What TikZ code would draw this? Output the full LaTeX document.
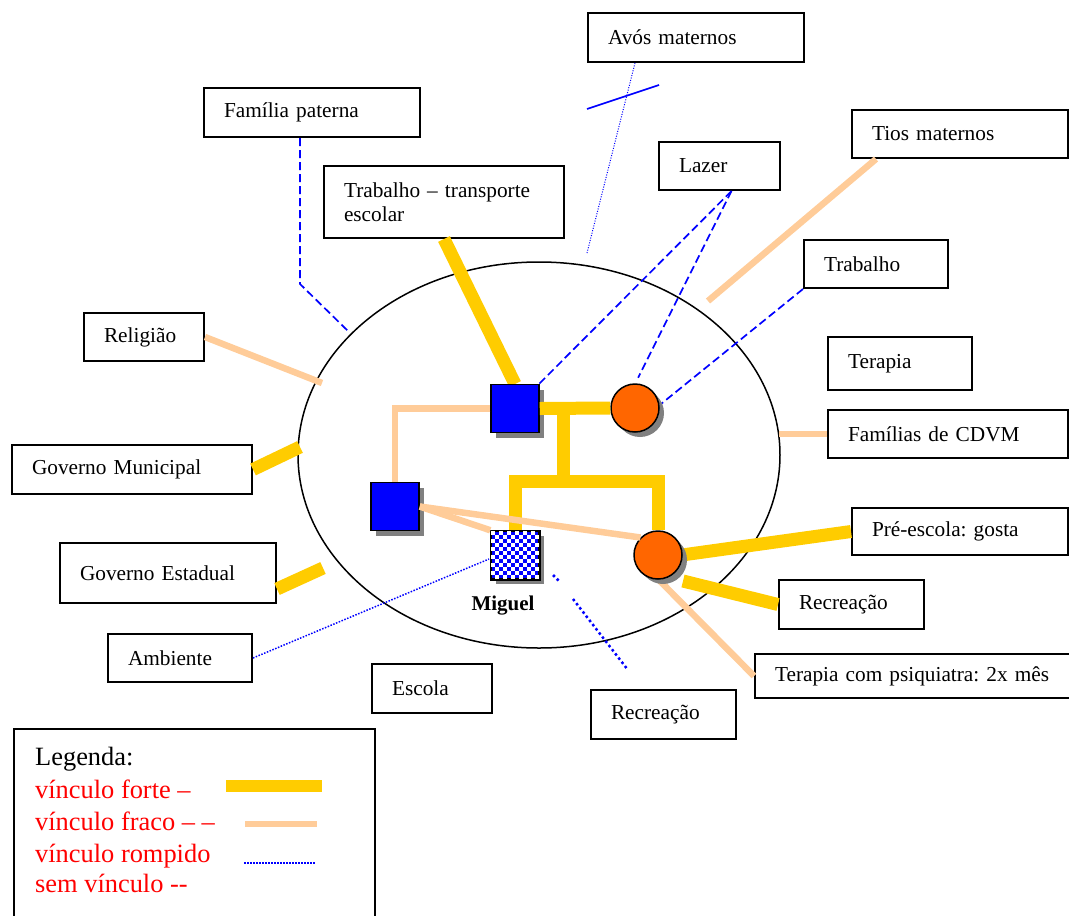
\documentclass[tikz,border=0pt]{standalone}
\usepackage{fontspec}
\setmainfont{Liberation Serif}
\usetikzlibrary{shapes.geometric,shadows}
\definecolor{amarelo}{HTML}{FFCC00}
\definecolor{pessego}{HTML}{FFCC99}
\definecolor{laranja}{HTML}{FF6600}
\definecolor{sombra}{HTML}{808080}
\frenchspacing

\begin{document}
\begin{tikzpicture}[
        x=1pt, y=-1pt,
        caixa/.style = {draw, line width=2pt, anchor=north west, align=left, inner xsep=20pt, inner ysep=0pt, font=\fontsize{21.3}{24}\selectfont},
        forte/.style = {draw=amarelo, line width=13pt},
        fraco/.style = {draw=pessego, line width=6.5pt},
        semvinculo/.style = {draw=blue, line width=1.7pt, dash pattern=on 8pt off 4pt},
        rompido/.style = {draw=blue, line width=1.5pt, dash pattern=on 1.5pt off 1.5pt},
        sombreado/.style = {drop shadow={shadow xshift=5pt, shadow yshift=-5pt, fill=sombra, opacity=1}},
        homem/.style = {rectangle, draw, line width=1.5pt, minimum size=48pt, inner sep=0pt, fill=blue, sombreado},
        mulher/.style = {circle, draw, line width=1.5pt, minimum size=48pt, inner sep=0pt, fill=laranja, sombreado},
        legtexto/.style = {anchor=base west, inner sep=0pt, text=red, font=\fontsize{26.4}{32}\selectfont}
    ]
    \useasboundingbox (0,0) rectangle (1069,916);

    % ecomapa
    \node[draw, ellipse, line width=1.5pt, minimum width=482pt, minimum height=386pt, inner sep=0pt] (eco) at (539,455) {};

    % caixas
    \node[caixa, text width=176pt, minimum height=49pt] (avos) at (587,12) {Avós maternos};
    \node[caixa, text width=81pt, minimum height=48pt] (lazer) at (658,141) {Lazer};
    \node[caixa, text width=176pt, minimum height=49pt] (fampat) at (203,87) {Família paterna};
    \node[caixa, text width=200pt, minimum height=72pt] (transp) at (323,165) {Trabalho – transporte\\escolar};
    \node[caixa, text width=176pt, minimum height=48pt] (tios) at (851,109) {Tios maternos};
    \node[caixa, text width=104pt, minimum height=48pt] (trabalho) at (803,239) {Trabalho};
    \node[caixa, text width=104pt, minimum height=53pt] (terapia) at (827,336) {Terapia};
    \node[caixa, text width=200pt, minimum height=48pt] (familias) at (827,409) {Famílias de CDVM};
    \node[caixa, text width=176pt, minimum height=47pt] (preescola) at (851,507) {Pré-escola: gosta};
    \node[caixa, text width=105pt, minimum height=49pt] (recrea) at (778,579) {Recreação};
    \node[caixa, text width=281pt, minimum height=44pt] (terapsi) at (754,653) {Terapia com psiquiatra: 2x mês};
    \node[caixa, text width=105pt, minimum height=49pt] (recreb) at (590,689) {Recreação};
    \node[caixa, text width=80pt, minimum height=49pt] (escola) at (371,663) {Escola};
    \node[caixa, text width=80pt, minimum height=48pt] (religiao) at (83,312) {Religião};
    \node[caixa, text width=200pt, minimum height=49pt] (govmun) at (11,444) {Governo Municipal};
    \node[caixa, text width=176pt, minimum height=60pt] (govest) at (59,542) {Governo Estadual};
    \node[caixa, text width=104pt, minimum height=48pt] (ambiente) at (107,633) {Ambiente};

    % vinculos externos
    \draw[forte] (transp.south) -- (515,384);
    \draw[semvinculo] ([xshift=-12pt]fampat.south) -- ++(0,146) -- ++(48,47);
    \draw[blue, line width=1pt, dash pattern=on 1pt off 1.5pt] ([xshift=-61pt]avos.south) -- (587,253);
    \draw[blue, line width=1.7pt] (587,109) -- (659,85);
    \draw[semvinculo] ([xshift=12pt]lazer.south) -- (539,384);
    \draw[semvinculo, shorten >=7pt] ([xshift=12pt]lazer.south) -- (635,384);
    \draw[semvinculo] (trabalho.south west) -- (661,404);
    \draw[fraco] ([xshift=-84pt]tios.south) -- (708,301);
    \draw[fraco] (familias.west) -- ++(-48,0);
    \draw[forte] (682,555) -- (preescola.west);
    \draw[forte] (683,581) -- (recrea.west);
    \draw[fraco] (658,579) -- (terapsi.west);
    \draw[blue, line width=2.5pt, dash pattern=on 2.5pt off 2.8pt] (553,575) -- (559,581);
    \draw[blue, line width=2.5pt, dash pattern=on 2.5pt off 2.8pt] (573,599) -- (628,670);
    \draw[rompido] (ambiente.east) -- (489,559);
    \draw[fraco] (religiao.east) -- (322,383);
    \draw[forte] (govmun.east) -- (300,447);
    \draw[forte] ([yshift=-16pt]govest.east) -- (323,568);

    % genograma
    \node[homem] (pai) at (515,408.5) {};
    \node[mulher] (mae) at (635,408) {};
    \node[homem] (irmao) at (395,506.5) {};
    \node[homem] (miguel) at (515,555) {};
    \node[mulher] (irma) at (658,555) {};

    \foreach \i in {0,...,5} \foreach \j in {0,...,5} {
        \fill[white] (491+8*\i, 531+8*\j) rectangle ++(4,4);
        \fill[white] (495+8*\i, 535+8*\j) rectangle ++(4,4);
    }
    \draw[line width=1.5pt] (miguel.north west) rectangle (miguel.south east);
    \node[anchor=base, inner sep=0pt, font=\fontsize{21}{24}\selectfont\bfseries] (nome) at (503,610) {Miguel};

    \path (pai.east) -- coordinate[pos=0.333] (casal) (mae.west);
    \draw[forte] (pai.east) -- (mae.west);
    \draw[forte] (casal) -- ++(0,74);
    \draw[forte] (miguel.north) -- ++(0,-49) -| (irma.north);
    \draw[fraco] (pai.west) -| (irmao.north);
    \draw[fraco] (irmao.east) -- (miguel.north west);
    \draw[fraco] (irmao.east) -- (irma.north west);

    % legenda
    \node[draw, line width=2pt, anchor=north west, minimum width=361pt, minimum height=200pt] (legenda) at (13,728) {};
    \node[legtexto, text=black] (leg0) at (35,765) {Legenda:};
    \node[legtexto] (leg1) at (35,798) {vínculo forte –};
    \node[legtexto] (leg2) at (35,830) {vínculo fraco – –};
    \node[legtexto] (leg3) at (35,862) {vínculo rompido};
    \node[legtexto] (leg4) at (35,892) {sem vínculo -{}-};
    \draw[forte, line width=12pt] (226,786) -- (322,786);
    \draw[fraco, line width=6pt] (245,824) -- (317,824);
    \draw[rompido] (244,863) -- (316,863);
\end{tikzpicture}
\end{document}
